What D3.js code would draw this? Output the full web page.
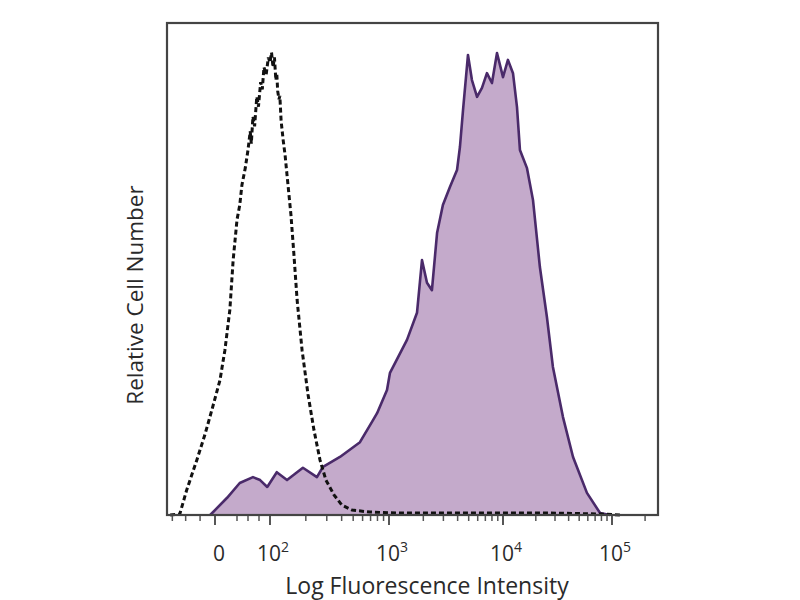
<!DOCTYPE html>
<html>
<head>
<meta charset="utf-8">
<script src="https://cdn.jsdelivr.net/npm/d3@7"></script>
<style>
  body { margin: 0; background: #fff; }
  svg { display: block; }
</style>
</head>
<body>
<div id="app"></div>
<script>
// isotype control (dashed) - intensity / relative count
const controlX = [-84, -66, -53, -34, -19, -6, 9, 18, 27, 33, 40, 45, 49, 55, 60, 64, 66, 69, 72, 76, 79, 83, 86, 89, 93, 97, 100,
  103, 106, 109, 112, 114, 116, 119, 121, 124, 129, 134, 139, 150, 159, 169, 186, 209, 234, 263, 295, 345, 402, 489, 692,
  1250, 3430, 9400, 27000, 78000, 118000];
const controlY = [0, 0.2, 5.1, 11.2, 16.3, 21.3, 27.4, 33.5, 41.7, 51.8, 60, 63, 67.1, 70.5, 74.2, 78, 75.5, 81, 79, 85, 83, 88, 86.5, 91, 89.5, 93, 92,
  94, 91, 93, 88.4, 89.8, 86.2, 84.5, 85.2, 80.1, 76.2, 73.1, 69.1, 61, 52.8, 43.7, 33.5, 24.4, 17.3, 11.2, 7.1, 4.1, 2.0, 1.0, 0.6,
  0.4, 0.4, 0.4, 0.4, 0.2, 0];

// stained sample (filled)
const sampleX = [-9, 22, 45, 69, 82, 95, 114, 139, 189, 248, 279, 387, 570, 734, 794, 962, 1020, 1438, 1760, 1947, 2154,
  2380, 2640, 2970, 3430, 3950, 4190, 4460, 4930, 5340, 5920, 6540, 7230, 8000, 8860, 10000, 11100, 12350, 13440, 14300,
  16600, 18850, 21800, 25300, 28700, 35500, 43900, 58900, 77700, 96000];
const sampleY = [0, 3.5, 6.5, 7.7, 7.1, 5.7, 8.7, 7.1, 9.6, 7.7, 9.8, 11.8, 14.8, 19.3, 20.7, 25.4, 28.9, 35.6, 41.1, 51.8, 47.2,
  45.7, 57.3, 63, 66.7, 70.1, 74.8, 82.3, 93.5, 88.4, 85, 86.8, 89.8, 87.8, 93.9, 89, 92.5, 89.8, 82.9, 74.2,
  70.5, 64, 50.4, 40.2, 30.1, 19.9, 11.8, 4.5, 0.4, 0];

const majorTicks = [0, 100, 1000, 10000, 100000];
const majorLabels = [["0", ""], ["10", "2"], ["10", "3"], ["10", "4"], ["10", "5"]];
const minorTicks = [-80, -55, -28, 40, 60, 80,
  200, 300, 400, 500, 600, 700, 800, 900,
  2000, 3000, 4000, 5000, 6000, 7000, 8000, 9000,
  20000, 30000, 40000, 50000, 60000, 70000, 80000, 90000, 200000];

const W = 800, H = 600;
const mLeft = 167, mRight = 658, mTop = 23, mBottom = 515;
const font = 'Open Sans, sans-serif';

const svg = d3.select('#app').append('svg').attr('width', W).attr('height', H);

// linear region around zero, log above 100 (logicle-like display)
const xLin = d3.scaleLinear().domain([-90, 0, 100]).range([mLeft, 215, 270]);
const xLog = d3.scaleLog().domain([100, 1000, 10000, 100000, 262144]).range([270, 389, 503, 612, mRight]);
const x = v => v <= 100 ? xLin(v) : xLog(v);
const y = d3.scaleLinear().domain([0, 100]).range([mBottom, mTop]);

const sample = sampleX.map((v, i) => [v, sampleY[i]]);
const control = controlX.map((v, i) => [v, controlY[i]]);

svg.append('path')
  .datum(sample)
  .attr('d', d3.area().x(d => x(d[0])).y0(y(0)).y1(d => y(d[1])))
  .attr('fill', '#c4aacb');

svg.append('path')
  .datum(sample)
  .attr('d', d3.line().x(d => x(d[0])).y(d => y(d[1])))
  .attr('fill', 'none')
  .attr('stroke', '#4a2a6a')
  .attr('stroke-width', 2.6)
  .attr('stroke-linejoin', 'round');

svg.append('path')
  .datum(control)
  .attr('d', d3.line().x(d => x(d[0])).y(d => y(d[1])))
  .attr('fill', 'none')
  .attr('stroke', '#111')
  .attr('stroke-width', 3)
  .attr('stroke-dasharray', '5,3');

// frame
svg.append('rect')
  .attr('x', mLeft).attr('y', mTop)
  .attr('width', mRight - mLeft).attr('height', mBottom - mTop)
  .attr('fill', 'none')
  .attr('stroke', '#444')
  .attr('stroke-width', 2.2);

// ticks
svg.selectAll('.minor').data(minorTicks).enter().append('line')
  .attr('x1', d => x(d)).attr('x2', d => x(d))
  .attr('y1', mBottom + 1).attr('y2', mBottom + 6)
  .attr('stroke', '#555').attr('stroke-width', 1.5);

svg.selectAll('.major').data(majorTicks).enter().append('line')
  .attr('x1', d => x(d)).attr('x2', d => x(d))
  .attr('y1', mBottom + 1).attr('y2', mBottom + 10)
  .attr('stroke', '#444').attr('stroke-width', 1.8);

const lab = svg.selectAll('.lab').data(majorTicks).enter().append('text')
  .attr('x', d => x(d) + (d === 0 ? 4 : 3))
  .attr('y', 561)
  .attr('text-anchor', 'middle')
  .attr('font-family', font)
  .attr('font-size', 21)
  .attr('fill', '#2a2a2a');
lab.append('tspan').text((d, i) => majorLabels[i][0]);
lab.append('tspan').attr('dy', -9).attr('font-size', 14).text((d, i) => majorLabels[i][1]);

svg.append('text')
  .attr('x', 427)
  .attr('y', 594)
  .attr('text-anchor', 'middle')
  .attr('font-family', font)
  .attr('font-size', 23)
  .attr('fill', '#2a2a2a')
  .text('Log Fluorescence Intensity');

svg.append('text')
  .attr('transform', 'translate(143,295) rotate(-90)')
  .attr('text-anchor', 'middle')
  .attr('font-family', font)
  .attr('font-size', 22.5)
  .attr('fill', '#2a2a2a')
  .text('Relative Cell Number');
</script>
</body>
</html>
